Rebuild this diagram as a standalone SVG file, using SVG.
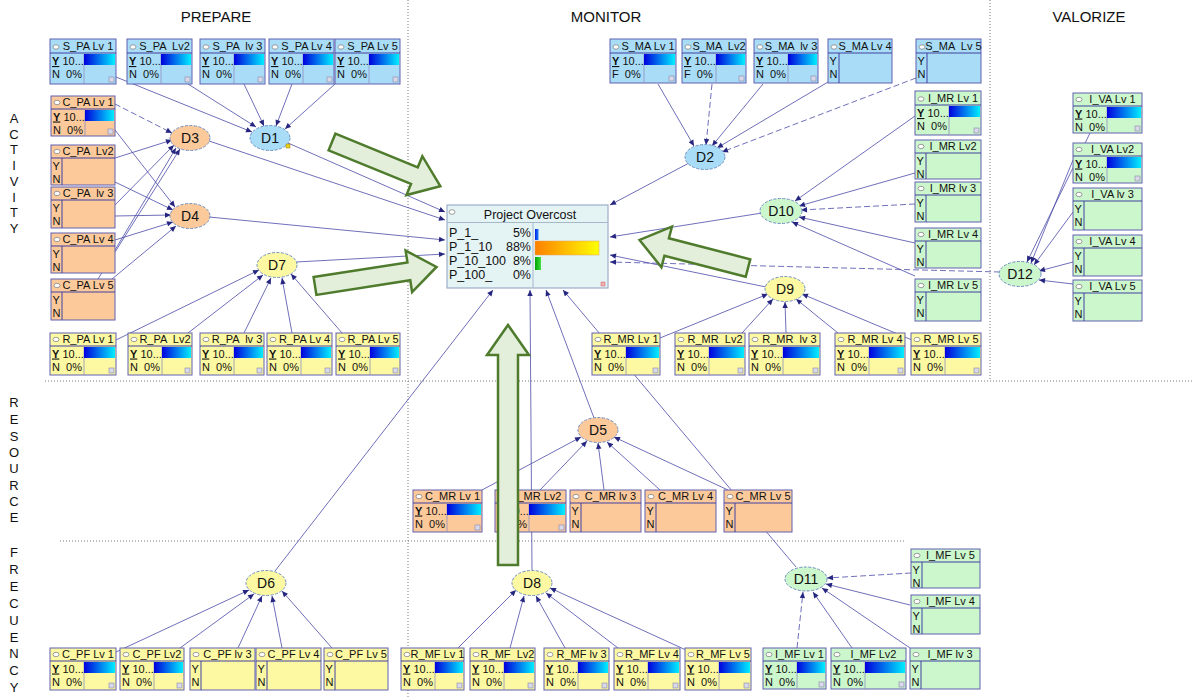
<svg xmlns="http://www.w3.org/2000/svg" xmlns:xlink="http://www.w3.org/1999/xlink" width="1192" height="697" viewBox="0 0 1192 697">
<style>
text{font-family:"Liberation Sans",Arial,sans-serif;font-size:11px;fill:#111}
.tt{text-anchor:middle;white-space:pre}
.hd{font-size:15px;text-anchor:middle}
.vl{font-size:13px;text-anchor:middle}
.yu{font-weight:bold;text-decoration:underline}
.bx{stroke:#6060b0;stroke-width:1}
.b{fill:#a9ddf7}.o{fill:#fcc99b}.y{fill:#fdf9a2}.g{fill:#ccf6cc}
.tl{fill:none;stroke:#4040a0;stroke-width:1}
.sf{fill:none;stroke:#9090c0;stroke-width:0.8}
.bar{fill:url(#gb)}
.ci{fill:#fff;stroke:#777;stroke-width:0.7}
.cn{fill:none;stroke:#4a4aa8;stroke-width:0.8;marker-end:url(#ah)}
.da{stroke-dasharray:6 3}
.dot{fill:none;stroke:#777;stroke-width:1;stroke-dasharray:1 2}
.el{stroke:#6f8fc0;stroke-width:1;stroke-dasharray:3 1.5}
.dl{font-size:14px;text-anchor:middle}
.ga{fill:#e3eedb;stroke:#4f7b2c;stroke-width:2.5;stroke-linejoin:miter}
</style>
<defs>
<linearGradient id="gb" x1="0" x2="1" y1="0" y2="0"><stop offset="0" stop-color="#0000dd"/><stop offset="1" stop-color="#00eeff"/></linearGradient>
<linearGradient id="go" x1="0" x2="1" y1="0" y2="0"><stop offset="0" stop-color="#ff8000"/><stop offset="1" stop-color="#ffff00"/></linearGradient>
<linearGradient id="gg" x1="0" x2="1" y1="0" y2="0"><stop offset="0" stop-color="#00a000"/><stop offset="1" stop-color="#40e040"/></linearGradient>
<linearGradient id="gbl" x1="0" x2="1" y1="0" y2="0"><stop offset="0" stop-color="#0020e0"/><stop offset="1" stop-color="#2080ff"/></linearGradient>
<marker id="ah" viewBox="0 0 10 10" refX="10" refY="5" markerWidth="7" markerHeight="6" orient="auto" markerUnits="userSpaceOnUse"><path d="M0,0.5 L10,5 L0,9.5 z" fill="#262680"/></marker>
<g id="tf"><ellipse class="ci" cx="6" cy="6.5" rx="3" ry="2.2"/><text x="2" y="24.5"><tspan class="yu">Y</tspan> 10...</text><text x="2" y="37.5" xml:space="preserve" style="white-space:pre">N  0%</text></g>
<g id="tfF"><ellipse class="ci" cx="6" cy="6.5" rx="3" ry="2.2"/><text x="2" y="24.5"><tspan class="yu">Y</tspan> 10...</text><text x="2" y="37.5" xml:space="preserve" style="white-space:pre">F  0%</text></g>
<g id="te"><ellipse class="ci" cx="6" cy="6.5" rx="3" ry="2.2"/><text x="1.5" y="24.5">Y</text><text x="1.5" y="37.5">N</text></g>
<rect id="cr" width="5" height="5" fill="#d8d8e8" stroke="#8888aa" stroke-width="0.6"/>
</defs>
<rect width="1192" height="697" fill="#fff"/>

<g id="frame">
<path class="dot" d="M408 0V697M990 0V380M45 381H1192M60 541H905"/>
<text class="hd" x="216" y="22">PREPARE</text>
<text class="hd" x="606" y="22">MONITOR</text>
<text class="hd" x="1089" y="22">VALORIZE</text>
<text class="vl" x="14" y="123">A</text><text class="vl" x="14" y="139">C</text><text class="vl" x="14" y="154">T</text><text class="vl" x="14" y="170">I</text><text class="vl" x="14" y="186">V</text><text class="vl" x="14" y="202">I</text><text class="vl" x="14" y="217">T</text><text class="vl" x="14" y="233">Y</text>
<text class="vl" x="14" y="407">R</text><text class="vl" x="14" y="424">E</text><text class="vl" x="14" y="441">S</text><text class="vl" x="14" y="457">O</text><text class="vl" x="14" y="473">U</text><text class="vl" x="14" y="490">R</text><text class="vl" x="14" y="506">C</text><text class="vl" x="14" y="522">E</text>
<text class="vl" x="14" y="557">F</text><text class="vl" x="14" y="574">R</text><text class="vl" x="14" y="591">E</text><text class="vl" x="14" y="608">C</text><text class="vl" x="14" y="625">U</text><text class="vl" x="14" y="642">E</text><text class="vl" x="14" y="658">N</text><text class="vl" x="14" y="675">C</text><text class="vl" x="14" y="692">Y</text>
</g>

<g id="connectors">
<path class="cn" d="M116 77L252 132"/>
<path class="cn" d="M188 84L256 127"/>
<path class="cn" d="M244 84L264 126"/>
<path class="cn" d="M292 84L276 126"/>
<path class="cn" d="M335 84L285 129"/>
<path class="cn" d="M288 143L445 212"/>
<path class="cn da" d="M115 104L172 133"/>
<path class="cn" d="M115 130L175 207"/>
<path class="cn" d="M115 158L172 140"/>
<path class="cn" d="M115 182L173 210"/>
<path class="cn" d="M115 205L174 145"/>
<path class="cn" d="M115 216L171 215"/>
<path class="cn" d="M115 250L176 148"/>
<path class="cn" d="M115 240L173 222"/>
<path class="cn" d="M98 279L180 149"/>
<path class="cn" d="M112 279L176 226"/>
<path class="cn" d="M209 141L445 220"/>
<path class="cn" d="M209 217L445 240"/>
<path class="cn" d="M116 340L259 270"/>
<path class="cn" d="M188 333L263 275"/>
<path class="cn" d="M244 333L271 278"/>
<path class="cn" d="M292 333L282 278"/>
<path class="cn" d="M342 333L291 274"/>
<path class="cn" d="M296 262L445 254"/>
<path class="cn" d="M658 84L694 146"/>
<path class="cn da" d="M712 84L706 145"/>
<path class="cn" d="M763 84L712 146"/>
<path class="cn" d="M828 82L717 148"/>
<path class="cn da" d="M916 78L722 152"/>
<path class="cn" d="M689 163L610 205"/>
<path class="cn" d="M915 116L795 201"/>
<path class="cn" d="M915 173L799 206"/>
<path class="cn da" d="M915 204L801 210"/>
<path class="cn" d="M915 243L799 217"/>
<path class="cn" d="M915 276L792 222"/>
<path class="cn" d="M762 213L610 237"/>
<path class="cn" d="M660 338L768 294"/>
<path class="cn" d="M742 333L773 299"/>
<path class="cn" d="M786 333L785 302"/>
<path class="cn" d="M838 333L796 299"/>
<path class="cn" d="M912 340L802 294"/>
<path class="cn" d="M766 287L610 255"/>
<path class="cn" d="M1090 133L1027 262"/>
<path class="cn" d="M1073 160L1031 263"/>
<path class="cn" d="M1073 212L1034 265"/>
<path class="cn" d="M1073 262L1039 271"/>
<path class="cn" d="M1073 284L1039 280"/>
<path class="cn da" d="M1000 272L610 262"/>
<path class="cn" d="M482 490L581 437"/>
<path class="cn" d="M540 490L587 441"/>
<path class="cn" d="M604 490L598 443"/>
<path class="cn" d="M660 490L607 442"/>
<path class="cn" d="M728 490L614 437"/>
<path class="cn" d="M594 418L546 290"/>
<path class="cn" d="M532 570L530 290"/>
<path class="cn" d="M116 652L249 590"/>
<path class="cn" d="M180 648L254 594"/>
<path class="cn" d="M238 648L262 596"/>
<path class="cn" d="M282 648L272 596"/>
<path class="cn" d="M332 648L282 591"/>
<path class="cn" d="M275 571L493 290"/>
<path class="cn" d="M458 648L516 590"/>
<path class="cn" d="M510 648L524 596"/>
<path class="cn" d="M565 648L536 596"/>
<path class="cn" d="M618 648L546 593"/>
<path class="cn" d="M686 650L550 588"/>
<path class="cn da" d="M797 648L803 592"/>
<path class="cn" d="M852 648L813 592"/>
<path class="cn" d="M910 648L822 588"/>
<path class="cn" d="M910 605L826 584"/>
<path class="cn da" d="M911 573L827 578"/>
<path class="cn" d="M796 567L563 290"/>
</g>

<g id="S_PA1" transform="translate(50,39)"><rect class="bx b" width="66" height="45"/><path class="tl" d="M0 14H66"/><path class="sf" d="M34 14V45"/><rect class="bar" x="34" y="15" width="31" height="11"/><use href="#tf" y="1.5"/><use href="#cr" x="59" y="38"/><text class="tt" x="38" y="11">S_PA Lv 1</text></g>
<g id="S_PA2" transform="translate(127,39)"><rect class="bx b" width="65" height="45"/><path class="tl" d="M0 14H65"/><path class="sf" d="M34 14V45"/><rect class="bar" x="34" y="15" width="30" height="11"/><use href="#tf" y="1.5"/><use href="#cr" x="58" y="38"/><text class="tt" x="37.5" y="11" xml:space="preserve">S_PA  Lv2</text></g>
<g id="S_PA3" transform="translate(200,39)"><rect class="bx b" width="65" height="45"/><path class="tl" d="M0 14H65"/><path class="sf" d="M34 14V45"/><rect class="bar" x="34" y="15" width="30" height="11"/><use href="#tf" y="1.5"/><use href="#cr" x="58" y="38"/><text class="tt" x="37.5" y="11" xml:space="preserve">S_PA  lv 3</text></g>
<g id="S_PA4" transform="translate(269,39)"><rect class="bx b" width="65" height="45"/><path class="tl" d="M0 14H65"/><path class="sf" d="M34 14V45"/><rect class="bar" x="34" y="15" width="30" height="11"/><use href="#tf" y="1.5"/><use href="#cr" x="58" y="38"/><text class="tt" x="37.5" y="11">S_PA Lv 4</text></g>
<g id="S_PA5" transform="translate(335,39)"><rect class="bx b" width="65" height="45"/><path class="tl" d="M0 14H65"/><path class="sf" d="M34 14V45"/><rect class="bar" x="34" y="15" width="30" height="11"/><use href="#tf" y="1.5"/><use href="#cr" x="58" y="38"/><text class="tt" x="37.5" y="11">S_PA Lv 5</text></g>

<g id="S_MA1" transform="translate(610,39)"><rect class="bx b" width="66" height="44"/><path class="tl" d="M0 14H66"/><path class="sf" d="M34 14V44"/><rect class="bar" x="34" y="15" width="31" height="11"/><use href="#tfF" y="1.5"/><use href="#cr" x="59" y="37"/><text class="tt" x="38" y="11">S_MA Lv 1</text></g>
<g id="S_MA2" transform="translate(682,39)"><rect class="bx b" width="64" height="44"/><path class="tl" d="M0 14H64"/><path class="sf" d="M34 14V44"/><rect class="bar" x="34" y="15" width="29" height="11"/><use href="#tfF" y="1.5"/><use href="#cr" x="57" y="37"/><text class="tt" x="37" y="11" xml:space="preserve">S_MA  Lv2</text></g>
<g id="S_MA3" transform="translate(754,39)"><rect class="bx b" width="64" height="44"/><path class="tl" d="M0 14H64"/><path class="sf" d="M34 14V44"/><rect class="bar" x="34" y="15" width="29" height="11"/><use href="#tf" y="1.5"/><use href="#cr" x="57" y="37"/><text class="tt" x="37" y="11" xml:space="preserve">S_MA  lv 3</text></g>
<g id="S_MA4" transform="translate(828,39)"><rect class="bx b" width="64" height="44"/><path class="tl" d="M0 14H64M11 14V44"/><use href="#te" y="1.5"/><text class="tt" x="37" y="11">S_MA Lv 4</text></g>
<g id="S_MA5" transform="translate(916,39)"><rect class="bx b" width="65" height="44"/><path class="tl" d="M0 14H65M11 14V44"/><use href="#te" y="1.5"/><text class="tt" x="37.5" y="11" xml:space="preserve">S_MA  Lv 5</text></g>

<g id="C_PA1" transform="translate(51,96)"><rect class="bx o" width="64" height="40"/><path class="tl" d="M0 13H64"/><path class="sf" d="M34 13V40"/><rect class="bar" x="34" y="14" width="29" height="11"/><use href="#tf"/><use href="#cr" x="57" y="33"/><text class="tt" x="37" y="10">C_PA Lv 1</text></g>
<g id="C_PA2" transform="translate(51,145)"><rect class="bx o" width="64" height="40"/><path class="tl" d="M0 13H64M11 13V40"/><use href="#te"/><text class="tt" x="37" y="10" xml:space="preserve">C_PA  Lv2</text></g>
<g id="C_PA3" transform="translate(51,187)"><rect class="bx o" width="64" height="41"/><path class="tl" d="M0 13H64M11 13V41"/><use href="#te"/><text class="tt" x="37" y="10" xml:space="preserve">C_PA  lv 3</text></g>
<g id="C_PA4" transform="translate(51,233)"><rect class="bx o" width="64" height="40"/><path class="tl" d="M0 13H64M11 13V40"/><use href="#te"/><text class="tt" x="37" y="10">C_PA Lv 4</text></g>
<g id="C_PA5" transform="translate(51,279)"><rect class="bx o" width="64" height="41"/><path class="tl" d="M0 13H64M11 13V41"/><use href="#te"/><text class="tt" x="37" y="10">C_PA Lv 5</text></g>

<g id="I_MR1" transform="translate(915,91)"><rect class="bx g" width="66" height="44"/><path class="tl" d="M0 14H66"/><path class="sf" d="M34 14V44"/><rect class="bar" x="34" y="15" width="31" height="11"/><use href="#tf" y="1.5"/><use href="#cr" x="59" y="37"/><text class="tt" x="38" y="11">I_MR Lv 1</text></g>
<g id="I_MR2" transform="translate(915,140)"><rect class="bx g" width="66" height="39"/><path class="tl" d="M0 13H66M11 13V39"/><use href="#te"/><text class="tt" x="38" y="10">I_MR Lv2</text></g>
<g id="I_MR3" transform="translate(915,182)"><rect class="bx g" width="66" height="40"/><path class="tl" d="M0 13H66M11 13V40"/><use href="#te"/><text class="tt" x="38" y="10">I_MR lv 3</text></g>
<g id="I_MR4" transform="translate(915,228)"><rect class="bx g" width="66" height="40"/><path class="tl" d="M0 13H66M11 13V40"/><use href="#te"/><text class="tt" x="38" y="10">I_MR Lv 4</text></g>
<g id="I_MR5" transform="translate(915,279)"><rect class="bx g" width="66" height="42"/><path class="tl" d="M0 13H66M11 13V42"/><use href="#te"/><text class="tt" x="38" y="10">I_MR Lv 5</text></g>

<g id="I_VA1" transform="translate(1073,93)"><rect class="bx g" width="69" height="40"/><path class="tl" d="M0 13H69"/><path class="sf" d="M34 13V40"/><rect class="bar" x="34" y="14" width="34" height="11"/><use href="#tf"/><use href="#cr" x="62" y="33"/><text class="tt" x="39.5" y="10">I_VA Lv 1</text></g>
<g id="I_VA2" transform="translate(1073,143)"><rect class="bx g" width="69" height="40"/><path class="tl" d="M0 13H69"/><path class="sf" d="M34 13V40"/><rect class="bar" x="34" y="14" width="34" height="11"/><use href="#tf"/><use href="#cr" x="62" y="33"/><text class="tt" x="39.5" y="10">I_VA Lv2</text></g>
<g id="I_VA3" transform="translate(1073,188)"><rect class="bx g" width="69" height="42"/><path class="tl" d="M0 13H69M11 13V42"/><use href="#te"/><text class="tt" x="39.5" y="10">I_VA lv 3</text></g>
<g id="I_VA4" transform="translate(1073,235)"><rect class="bx g" width="69" height="41"/><path class="tl" d="M0 13H69M11 13V41"/><use href="#te"/><text class="tt" x="39.5" y="10">I_VA Lv 4</text></g>
<g id="I_VA5" transform="translate(1073,280)"><rect class="bx g" width="69" height="41"/><path class="tl" d="M0 13H69M11 13V41"/><use href="#te"/><text class="tt" x="39.5" y="10">I_VA Lv 5</text></g>

<g id="R_PA1" transform="translate(50,333)"><rect class="bx y" width="66" height="42"/><path class="tl" d="M0 13H66"/><path class="sf" d="M34 13V42"/><rect class="bar" x="34" y="14" width="31" height="11"/><use href="#tf"/><use href="#cr" x="59" y="35"/><text class="tt" x="38" y="10">R_PA Lv 1</text></g>
<g id="R_PA2" transform="translate(128,333)"><rect class="bx y" width="64" height="42"/><path class="tl" d="M0 13H64"/><path class="sf" d="M34 13V42"/><rect class="bar" x="34" y="14" width="29" height="11"/><use href="#tf"/><use href="#cr" x="57" y="35"/><text class="tt" x="37" y="10" xml:space="preserve">R_PA  Lv2</text></g>
<g id="R_PA3" transform="translate(200,333)"><rect class="bx y" width="64" height="42"/><path class="tl" d="M0 13H64"/><path class="sf" d="M34 13V42"/><rect class="bar" x="34" y="14" width="29" height="11"/><use href="#tf"/><use href="#cr" x="57" y="35"/><text class="tt" x="37" y="10" xml:space="preserve">R_PA  lv 3</text></g>
<g id="R_PA4" transform="translate(267,333)"><rect class="bx y" width="65" height="42"/><path class="tl" d="M0 13H65"/><path class="sf" d="M34 13V42"/><rect class="bar" x="34" y="14" width="30" height="11"/><use href="#tf"/><use href="#cr" x="58" y="35"/><text class="tt" x="37.5" y="10">R_PA Lv 4</text></g>
<g id="R_PA5" transform="translate(336,333)"><rect class="bx y" width="64" height="42"/><path class="tl" d="M0 13H64"/><path class="sf" d="M34 13V42"/><rect class="bar" x="34" y="14" width="29" height="11"/><use href="#tf"/><use href="#cr" x="57" y="35"/><text class="tt" x="37" y="10">R_PA Lv 5</text></g>

<g id="R_MR1" transform="translate(592,333)"><rect class="bx y" width="68" height="42"/><path class="tl" d="M0 13H68"/><path class="sf" d="M34 13V42"/><rect class="bar" x="34" y="14" width="33" height="11"/><use href="#tf"/><use href="#cr" x="61" y="35"/><text class="tt" x="39" y="10">R_MR Lv 1</text></g>
<g id="R_MR2" transform="translate(675,333)"><rect class="bx y" width="70" height="42"/><path class="tl" d="M0 13H70"/><path class="sf" d="M34 13V42"/><rect class="bar" x="34" y="14" width="35" height="11"/><use href="#tf"/><use href="#cr" x="63" y="35"/><text class="tt" x="40" y="10" xml:space="preserve">R_MR  Lv2</text></g>
<g id="R_MR3" transform="translate(749,333)"><rect class="bx y" width="71" height="42"/><path class="tl" d="M0 13H71"/><path class="sf" d="M34 13V42"/><rect class="bar" x="34" y="14" width="36" height="11"/><use href="#tf"/><use href="#cr" x="64" y="35"/><text class="tt" x="40.5" y="10" xml:space="preserve">R_MR  lv 3</text></g>
<g id="R_MR4" transform="translate(835,333)"><rect class="bx y" width="70" height="42"/><path class="tl" d="M0 13H70"/><path class="sf" d="M34 13V42"/><rect class="bar" x="34" y="14" width="35" height="11"/><use href="#tf"/><use href="#cr" x="63" y="35"/><text class="tt" x="40" y="10">R_MR Lv 4</text></g>
<g id="R_MR5" transform="translate(911,333)"><rect class="bx y" width="70" height="42"/><path class="tl" d="M0 13H70"/><path class="sf" d="M34 13V42"/><rect class="bar" x="34" y="14" width="35" height="11"/><use href="#tf"/><use href="#cr" x="63" y="35"/><text class="tt" x="40" y="10">R_MR Lv 5</text></g>

<g id="C_MR1" transform="translate(413,490)"><rect class="bx o" width="69" height="42"/><path class="tl" d="M0 13H69"/><path class="sf" d="M34 13V42"/><rect class="bar" x="34" y="14" width="34" height="11"/><use href="#tf"/><use href="#cr" x="62" y="35"/><text class="tt" x="39.5" y="10">C_MR Lv 1</text></g>
<g id="C_MR2" transform="translate(495,490)"><rect class="bx o" width="71" height="42"/><path class="tl" d="M0 13H71"/><path class="sf" d="M34 13V42"/><rect class="bar" x="34" y="14" width="36" height="11"/><use href="#tf"/><use href="#cr" x="64" y="35"/><text class="tt" x="40.5" y="10">C_MR Lv2</text></g>
<g id="C_MR3" transform="translate(570,490)"><rect class="bx o" width="71" height="42"/><path class="tl" d="M0 13H71M11 13V42"/><use href="#te"/><text class="tt" x="40.5" y="10">C_MR lv 3</text></g>
<g id="C_MR4" transform="translate(645,490)"><rect class="bx o" width="71" height="42"/><path class="tl" d="M0 13H71M11 13V42"/><use href="#te"/><text class="tt" x="40.5" y="10">C_MR Lv 4</text></g>
<g id="C_MR5" transform="translate(724,490)"><rect class="bx o" width="68" height="42"/><path class="tl" d="M0 13H68M11 13V42"/><use href="#te"/><text class="tt" x="39" y="10">C_MR Lv 5</text></g>

<g id="C_PF1" transform="translate(50,648)"><rect class="bx y" width="66" height="42"/><path class="tl" d="M0 13H66"/><path class="sf" d="M34 13V42"/><rect class="bar" x="34" y="14" width="31" height="11"/><use href="#tf"/><use href="#cr" x="59" y="35"/><text class="tt" x="38" y="10">C_PF Lv 1</text></g>
<g id="C_PF2" transform="translate(120,648)"><rect class="bx y" width="64" height="42"/><path class="tl" d="M0 13H64"/><path class="sf" d="M34 13V42"/><rect class="bar" x="34" y="14" width="29" height="11"/><use href="#tf"/><use href="#cr" x="57" y="35"/><text class="tt" x="37" y="10">C_PF Lv2</text></g>
<g id="C_PF3" transform="translate(190,648)"><rect class="bx y" width="65" height="42"/><path class="tl" d="M0 13H65M11 13V42"/><use href="#te"/><text class="tt" x="37.5" y="10">C_PF lv 3</text></g>
<g id="C_PF4" transform="translate(256,648)"><rect class="bx y" width="65" height="42"/><path class="tl" d="M0 13H65M11 13V42"/><use href="#te"/><text class="tt" x="37.5" y="10">C_PF Lv 4</text></g>
<g id="C_PF5" transform="translate(324,648)"><rect class="bx y" width="64" height="42"/><path class="tl" d="M0 13H64M11 13V42"/><use href="#te"/><text class="tt" x="37" y="10">C_PF Lv 5</text></g>

<g id="R_MF1" transform="translate(401,648)"><rect class="bx y" width="63" height="42"/><path class="tl" d="M0 13H63"/><path class="sf" d="M34 13V42"/><rect class="bar" x="34" y="14" width="28" height="11"/><use href="#tf"/><use href="#cr" x="56" y="35"/><text class="tt" x="36.5" y="10">R_MF Lv 1</text></g>
<g id="R_MF2" transform="translate(470,648)"><rect class="bx y" width="65" height="42"/><path class="tl" d="M0 13H65"/><path class="sf" d="M34 13V42"/><rect class="bar" x="34" y="14" width="30" height="11"/><use href="#tf"/><use href="#cr" x="58" y="35"/><text class="tt" x="37.5" y="10" xml:space="preserve">R_MF  Lv2</text></g>
<g id="R_MF3" transform="translate(544,648)"><rect class="bx y" width="65" height="42"/><path class="tl" d="M0 13H65"/><path class="sf" d="M34 13V42"/><rect class="bar" x="34" y="14" width="30" height="11"/><use href="#tf"/><use href="#cr" x="58" y="35"/><text class="tt" x="37.5" y="10">R_MF lv 3</text></g>
<g id="R_MF4" transform="translate(614,648)"><rect class="bx y" width="66" height="42"/><path class="tl" d="M0 13H66"/><path class="sf" d="M34 13V42"/><rect class="bar" x="34" y="14" width="31" height="11"/><use href="#tf"/><use href="#cr" x="59" y="35"/><text class="tt" x="38" y="10">R_MF Lv 4</text></g>
<g id="R_MF5" transform="translate(685,648)"><rect class="bx y" width="66" height="42"/><path class="tl" d="M0 13H66"/><path class="sf" d="M34 13V42"/><rect class="bar" x="34" y="14" width="31" height="11"/><use href="#tf"/><use href="#cr" x="59" y="35"/><text class="tt" x="38" y="10">R_MF Lv 5</text></g>

<g id="I_MF5" transform="translate(911,549)"><rect class="bx g" width="69" height="39"/><path class="tl" d="M0 13H69M11 13V39"/><use href="#te"/><text class="tt" x="39.5" y="10">I_MF Lv 5</text></g>
<g id="I_MF4" transform="translate(911,595)"><rect class="bx g" width="69" height="39"/><path class="tl" d="M0 13H69M11 13V39"/><use href="#te"/><text class="tt" x="39.5" y="10">I_MF Lv 4</text></g>
<g id="I_MF1" transform="translate(763,648)"><rect class="bx g" width="63" height="41"/><path class="tl" d="M0 13H63"/><path class="sf" d="M34 13V41"/><rect class="bar" x="34" y="14" width="28" height="11"/><use href="#tf"/><use href="#cr" x="56" y="34"/><text class="tt" x="36.5" y="10">I_MF Lv 1</text></g>
<g id="I_MF2" transform="translate(831,648)"><rect class="bx g" width="75" height="41"/><path class="tl" d="M0 13H75"/><path class="sf" d="M34 13V41"/><rect class="bar" x="34" y="14" width="40" height="11"/><use href="#tf"/><use href="#cr" x="68" y="34"/><text class="tt" x="42.5" y="10">I_MF Lv2</text></g>
<g id="I_MF3" transform="translate(910,648)"><rect class="bx g" width="70" height="41"/><path class="tl" d="M0 13H70M11 13V41"/><use href="#te"/><text class="tt" x="40" y="10">I_MF lv 3</text></g>

<g id="PO" transform="translate(447,205)">
<rect width="161" height="83" fill="#e4f3f4" stroke="#9cb0c8" stroke-width="1.2"/>
<path d="M0 17.5H161M86 17.5V83" fill="none" stroke="#a8b8cc" stroke-width="1"/>
<ellipse class="ci" cx="5" cy="7" rx="3" ry="2.3"/>
<text x="83" y="14" style="font-size:12.5px;text-anchor:middle">Project Overcost</text>
<text x="2" y="32" style="font-size:12.5px">P_1_</text><text x="84" y="32" style="font-size:12.5px;text-anchor:end">5%</text>
<text x="2" y="46" style="font-size:12.5px">P_1_10</text><text x="84" y="46" style="font-size:12.5px;text-anchor:end">88%</text>
<text x="2" y="60" style="font-size:12.5px">P_10_100</text><text x="84" y="60" style="font-size:12.5px;text-anchor:end">8%</text>
<text x="2" y="74" style="font-size:12.5px">P_100_</text><text x="84" y="74" style="font-size:12.5px;text-anchor:end">0%</text>
<rect x="88" y="24" width="3.5" height="11" fill="url(#gbl)"/>
<rect x="88" y="36" width="64" height="14" fill="url(#go)" stroke="#e0a060" stroke-width="0.5"/>
<rect x="88" y="52" width="6" height="13" fill="url(#gg)"/>
<rect x="154" y="77" width="4" height="4" fill="#f0b0b0" stroke="#d06060" stroke-width="0.5"/>
</g>

<g id="D1"><ellipse class="el" cx="270" cy="138" rx="20" ry="12.5" fill="#a9ddf7"/><text class="dl" x="270" y="143">D1</text><rect x="286" y="144" width="4" height="4" fill="#e8d020" stroke="#a08000" stroke-width="0.5"/></g>
<g id="D2"><ellipse class="el" cx="705" cy="157" rx="20" ry="12.5" fill="#a9ddf7"/><text class="dl" x="705" y="162">D2</text></g>
<g id="D3"><ellipse class="el" cx="190" cy="138" rx="20" ry="12.5" fill="#fcc99b"/><text class="dl" x="190" y="143">D3</text></g>
<g id="D4"><ellipse class="el" cx="190" cy="216" rx="20" ry="12.5" fill="#fcc99b"/><text class="dl" x="190" y="221">D4</text></g>
<g id="D7"><ellipse class="el" cx="277" cy="265" rx="20" ry="12.5" fill="#fdf9a2"/><text class="dl" x="277" y="270">D7</text></g>
<g id="D10"><ellipse class="el" cx="781" cy="211" rx="21" ry="12.5" fill="#ccf6cc"/><text class="dl" x="781" y="216">D10</text></g>
<g id="D9"><ellipse class="el" cx="785" cy="289" rx="20" ry="12.5" fill="#fdf9a2"/><text class="dl" x="785" y="294">D9</text></g>
<g id="D12"><ellipse class="el" cx="1020" cy="274" rx="21" ry="12.5" fill="#ccf6cc"/><text class="dl" x="1020" y="279">D12</text></g>
<g id="D5"><ellipse class="el" cx="598" cy="430" rx="20" ry="12.5" fill="#fcc99b"/><text class="dl" x="598" y="435">D5</text></g>
<g id="D6"><ellipse class="el" cx="266" cy="583" rx="20" ry="12.5" fill="#fdf9a2"/><text class="dl" x="266" y="588">D6</text></g>
<g id="D8"><ellipse class="el" cx="532" cy="583" rx="20" ry="12.5" fill="#fdf9a2"/><text class="dl" x="532" y="588">D8</text></g>
<g id="D11"><ellipse class="el" cx="806" cy="579" rx="21" ry="12" fill="#ccf6cc"/><text class="dl" x="806" y="584">D11</text></g>

<g id="bigarrows">
<polygon class="ga" transform="translate(332,142) rotate(22.2)" points="0,-9 89,-9 89,-21 117,0 89,21 89,9 0,9"/>
<polygon class="ga" transform="translate(315,286) rotate(-8.9)" points="0,-9 95,-9 95,-21 123,0 95,21 95,9 0,9"/>
<polygon class="ga" transform="translate(748,268) rotate(194.5)" points="0,-9 84,-9 84,-21 112,0 84,21 84,9 0,9"/>
<polygon class="ga" transform="translate(508,565) rotate(-90)" points="0,-10 210,-10 210,-21 240,0 210,21 210,10 0,10"/>
</g>
</svg>
